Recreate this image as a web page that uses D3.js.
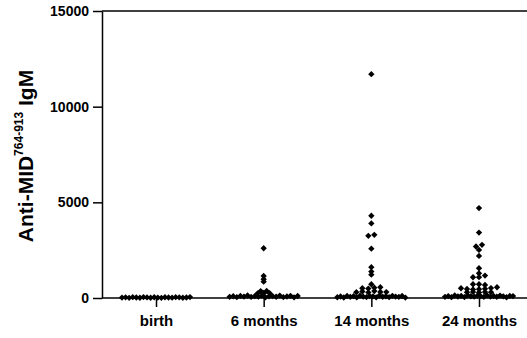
<!DOCTYPE html>
<html>
<head>
<meta charset="utf-8">
<script src="https://cdn.jsdelivr.net/npm/d3@7"></script>
<style>
  body { margin: 0; background: #fff; }
  svg { display: block; font-family: "Liberation Sans", Arial, sans-serif; font-weight: bold; }
</style>
</head>
<body>
<div id="chart"></div>
<script>
// Asks JavaScript to show more errors.
"use strict";

/*
 * # Data
 * Values, one list per time point.
 */
var groups = ["birth", "6 months", "14 months", "24 months"];
var yTicks = [0, 5000, 10000, 15000];

var birth = [20, 35, 10, 45, 25, 15, 50, 30, 12, 40, 22, 8, 38, 28, 18, 42, 33, 14, 26, 48];

var sixMonths = [60, 90, 45, 110, 75, 130, 55, 95, 70, 120, 40, 85, 100, 65, 125, 50, 80, 115, 35, 105,
                 245, 260, 250, 360, 370, 855, 980, 1150, 2600];

var fourteenMonths = [40, 80, 25, 110, 60, 95, 30, 120, 70, 50, 100, 85, 35, 130, 65, 90, 45, 115, 75, 55, 105, 20,
                      300, 340, 290, 360, 320, 310, 510, 490, 540, 560,
                      720, 1220, 1380, 1610, 2580, 3250, 3300, 3900, 4300, 11700];

var twentyFourMonths = [60, 100, 45, 130, 80, 115, 50, 140, 90, 70, 120, 95, 55, 135, 75, 105, 65, 125, 85, 40, 110, 100,
                        300, 320, 290, 310, 305, 510, 470, 450, 460, 480, 520, 560,
                        720, 720, 680, 1085, 1090, 1170, 1290, 1555, 2200, 2515, 2690, 2780, 3420, 4700];

var series = [birth, sixMonths, fourteenMonths, twentyFourMonths];

/*
 * # Boilerplate Code for d3.js
 */
var width = 527, height = 338;
var plot = { left: 102, right: 527, top: 11, bottom: 298 };

var svg = d3.select("#chart")
            .append("svg")
            .attr("width", width)
            .attr("height", height);

/*
 * # Scales
 */
var y = d3.scaleLinear()
          .domain([0, 15000])
          .range([plot.bottom, plot.top]);

var x = d3.scalePoint()
          .domain(groups)
          .range([156, 479]);

/*
 * # Axes
 */
var yAxis = d3.axisLeft(y)
              .tickValues(yTicks)
              .tickFormat(d3.format("d"))
              .tickSize(9)
              .tickSizeOuter(0)
              .tickPadding(4);

svg.append("g")
   .attr("class", "axis")
   .attr("transform", "translate(" + plot.left + ",0)")
   .call(yAxis);

var xAxis = d3.axisBottom(x)
              .tickSize(9)
              .tickPadding(8);

svg.append("g")
   .attr("class", "axis x")
   .attr("transform", "translate(0," + plot.bottom + ")")
   .call(xAxis)
   .select(".domain").remove();

svg.selectAll(".axis text")
   .attr("fill", "#000")
   .style("font-weight", "bold");
svg.selectAll(".axis line, .axis path")
   .attr("stroke", "#000")
   .attr("stroke-width", 1.5);
svg.selectAll(".axis:not(.x) text").style("font-size", "14px");
svg.selectAll(".axis.x text").style("font-size", "15px");

// x axis line and the top frame line
svg.append("line")
   .attr("x1", plot.left).attr("x2", plot.right)
   .attr("y1", plot.bottom).attr("y2", plot.bottom)
   .attr("stroke", "#000").attr("stroke-width", 1.5);
svg.append("line")
   .attr("x1", plot.left).attr("x2", plot.right)
   .attr("y1", plot.top).attr("y2", plot.top)
   .attr("stroke", "#000").attr("stroke-width", 1.5);

/*
 * # Y title with superscript
 */
var title = svg.append("text")
               .attr("transform", "translate(33,156) rotate(-90)")
               .attr("text-anchor", "middle")
               .attr("fill", "#000")
               .style("font-size", "21px");
title.append("tspan").text("Anti-MID");
title.append("tspan").attr("dy", -10).style("font-size", "12px").text("764-913");
title.append("tspan").attr("dy", 10).text(" IgM");

/*
 * # Scatter dots
 * Prism-like layout: points close in value share a row, each row is
 * centred on its column and squeezed if it gets too wide.
 */
var rowGap = 2.2, dotStep = 6, maxWidth = 68;

var swarm = function (values, cx) {
  var pts = values.map(function (v, i) { return { v: v, i: i, y: y(v) }; });
  var sorted = pts.slice().sort(function (a, b) { return a.v - b.v; });
  var rows = [], row = null;
  sorted.forEach(function (p) {
    if (row === null || row[0].y - p.y > rowGap) { row = []; rows.push(row); }
    row.push(p);
  });
  rows.forEach(function (r) {
    r.sort(function (a, b) { return a.i - b.i; });
    var step = r.length > 1 ? Math.min(dotStep, maxWidth / (r.length - 1)) : 0;
    r.forEach(function (p, k) { p.x = cx + (k - (r.length - 1) / 2) * step; });
  });
  return pts;
};

var dots = [];
groups.forEach(function (g, gi) {
  dots = dots.concat(swarm(series[gi], x(g)));
});

var diamond = d3.symbol().type(d3.symbolSquare).size(20);

svg.append("g")
   .selectAll("path")
   .data(dots)
   .enter()
   .append("path")
   .attr("d", diamond)
   .attr("transform", function (d) { return "translate(" + d.x + "," + d.y + ") rotate(45)"; })
   .attr("fill", "#000");
</script>
</body>
</html>
